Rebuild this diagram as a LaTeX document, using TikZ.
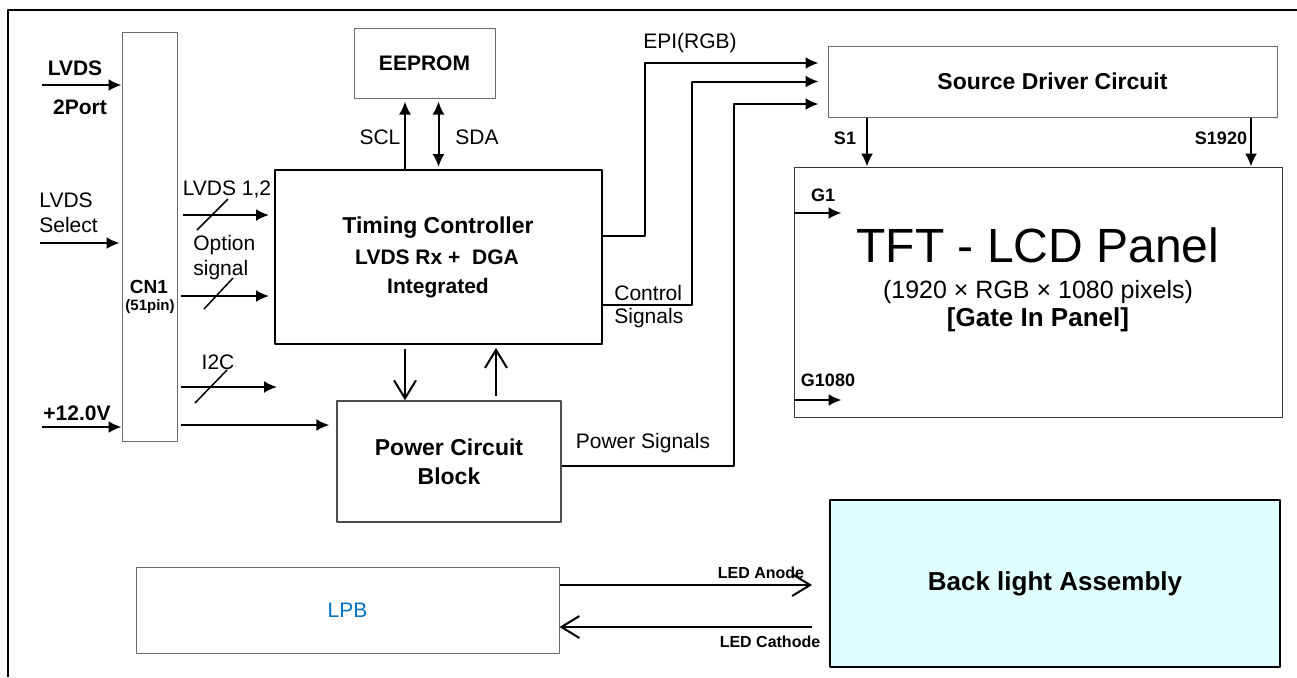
\documentclass[tikz,border=0pt]{standalone}
\usepackage{fontspec}
\setmainfont{Liberation Sans}
\usetikzlibrary{arrows.meta}
\definecolor{blucyan}{HTML}{E0FFFF}
\definecolor{lpbblue}{HTML}{0070C0}
\tikzset{
  blk/.style={draw=gray!85!black, line width=0.5pt, inner sep=0pt},
  txt/.style={inner sep=0pt, font=\fontsize{10.5}{12}\selectfont},
  btxt/.style={inner sep=0pt, font=\fontsize{10.5}{12}\selectfont\bfseries},
  pin/.style={inner sep=0pt, font=\fontsize{9}{11}\selectfont\bfseries},
  wire/.style={line width=1pt},
  slash/.style={line width=0.75pt},
  openarrow/.style={line width=1pt, -{Straight Barb[length=9pt,width=11pt]}},
}
\begin{document}
\begin{tikzpicture}[x=0.5pt,y=-0.5pt,line join=round,>={Latex[length=6.5pt,width=6pt]}]
\useasboundingbox (0,0) rectangle (1297,677);
% outer frame
\draw[line width=1pt] (8,677) -- (8,10) -- (1297,10);

% blocks
\node[blk, minimum width=27.5pt, minimum height=204.5pt] (cn1) at (149.5,236.5) {};
\node[blk, minimum width=70.5pt, minimum height=35pt, font=\fontsize{10.5}{12}\selectfont\bfseries] (eeprom) at (424.5,63) {EEPROM};
\node[draw, line width=1pt, inner sep=0pt, minimum width=163.5pt, minimum height=87pt] (tcon) at (438.5,257) {};
\node[blk, draw=gray!60!black, line width=0.75pt, minimum width=112pt, minimum height=60.5pt, align=center, font=\fontsize{11.5}{14.5}\selectfont\bfseries] (power) at (449,461.5) {Power Circuit\\Block};
\node[blk, minimum width=224.5pt, minimum height=35.5pt, font=\fontsize{11.5}{13}\selectfont\bfseries] (source) at (1052.5,81.5) {Source Driver Circuit};
\node[blk, draw=black!80, minimum width=244pt, minimum height=125pt] (panel) at (1038,292) {};
\node[blk, minimum width=211.5pt, minimum height=43pt, text=lpbblue, font=\fontsize{10.5}{12}\selectfont] (lpb) at (347.5,610) {LPB};
\node[draw, line width=1pt, fill=blucyan, inner sep=0pt, minimum width=225pt, minimum height=83.5pt, font=\fontsize{13}{15}\selectfont\bfseries] (blu) at (1055,583.5) {Back light Assembly};

% texts in blocks
\node[pin, font=\fontsize{9.5}{11}\selectfont\bfseries] (cn1txt) at (149,287) {CN1};
\node[pin, font=\fontsize{7.5}{9}\selectfont\bfseries] (pintxt) at (150,307) {(51pin)};
\node[btxt, font=\fontsize{11.5}{13}\selectfont\bfseries] (tctxt) at (438,228) {Timing Controller};
\node[btxt] (rxtxt) at (437,257) {LVDS Rx +\ \ DGA};
\node[btxt] (inttxt) at (438,288) {Integrated};
\node[txt, font=\fontsize{24}{28}\selectfont] (tfttxt) at (1038,245) {TFT - LCD Panel};
\node[txt, font=\fontsize{12.5}{14}\selectfont] (restxt) at (1038,292) {(1920 × RGB × 1080 pixels)};
\node[btxt, font=\fontsize{13}{15}\selectfont\bfseries] (giptxt) at (1038,320) {[Gate In Panel]};

% inputs
\coordinate (lvdsin) at (42,85);
\coordinate (selin) at (40,243);
\coordinate (vin) at (42,427);
\draw[wire,->] (lvdsin) -- (lvdsin -| cn1.west);
\draw[wire,->,shorten >=1pt] (selin) -- (selin -| cn1.west);
\draw[wire,->] (vin) -- (vin -| cn1.west);
\node[btxt] (lvdstxt) at (75,68) {LVDS};
\node[btxt] (porttxt) at (80,107) {2Port};
\node[txt, anchor=west] (seltxt) at (39,200) {LVDS};
\node[txt, anchor=west] (seltxtb) at (39,225) {Select};
\node[btxt] (vtxt) at (77,413) {+12.0V};

% CN1 to timing controller and power
\coordinate (ylvds) at (0,215);
\coordinate (yopt) at (0,296);
\coordinate (i2cend) at (277,387);
\coordinate (ypwr) at (0,425);
\draw[wire,->,shorten <=2.5pt,shorten >=2.5pt] (cn1.east |- ylvds) -- (tcon.west |- ylvds);
\draw[wire,->,shorten <=1.5pt,shorten >=2.5pt] (cn1.east |- yopt) -- (tcon.west |- yopt);
\draw[wire,->,shorten <=1.5pt] (cn1.east |- i2cend) -- (i2cend);
\draw[wire,->,shorten <=1.5pt,shorten >=3.5pt] (cn1.east |- ypwr) -- (power.west |- ypwr);
\draw[slash] (197,230) -- (228,199);
\draw[slash] (204,309) -- (233,278);
\draw[slash] (195,403) -- (227,370);
\node[txt] (lv12txt) at (227,190) {LVDS 1,2};
\node[txt, anchor=west] (opttxt) at (193,245) {Option};
\node[txt, anchor=west] (opttxtb) at (193,270) {signal};
\node[txt] (i2ctxt) at (218,362) {I2C};

% EEPROM bus
\draw[wire,->,shorten >=1.5pt] ([xshift=-16.75pt]tcon.north) -- ([xshift=-16.75pt]tcon.north |- eeprom.south);
\draw[wire,<->,shorten <=1pt,shorten >=1.5pt] (tcon.north) -- (tcon.north |- eeprom.south);
\node[txt] (scltxt) at (380,137) {SCL};
\node[txt] (sdatxt) at (477,137) {SDA};

% timing controller <-> power
\draw[openarrow,shorten <=2pt] ([xshift=-16.75pt]tcon.south) -- ([xshift=-16.75pt]tcon.south |- power.north);
\draw[openarrow,shorten <=2pt,shorten >=1.5pt] ([xshift=28.75pt]tcon.south |- power.north) -- ([xshift=28.75pt]tcon.south);

% to source driver
\draw[wire,->,shorten >=4.5pt] ([yshift=10.5pt]tcon.east) -- ++(42,0) |- ([yshift=9.25pt]source.west);
\draw[wire,->,shorten >=4.5pt] ([yshift=-24pt]tcon.east) -- ++(89,0) |- (source.west);
\draw[wire,->,shorten >=4.5pt] ([yshift=-2.25pt]power.east) -- ++(172,0) |- ([yshift=-11.25pt]source.west);
\node[txt] (epitxt) at (690,43) {EPI(RGB)};
\node[txt, anchor=west] (ctltxt) at (614,293) {Control};
\node[txt, anchor=west] (ctltxtb) at (614,318) {Signals};
\node[txt] (pwrtxt) at (643,443) {Power Signals};

% source and gate lines
\draw[wire,->] ([xshift=-92.75pt]source.south) -- ([xshift=-92.75pt]source.south |- panel.north);
\draw[wire,->] ([xshift=99.25pt]source.south) -- ([xshift=99.25pt]source.south |- panel.north);
\draw[wire,->] ([yshift=39.5pt]panel.west) -- ++(48,0);
\draw[wire,->] ([yshift=-54pt]panel.west) -- ++(48,0);
\node[pin] (s1txt) at (845,138) {S1};
\node[pin] (s1920txt) at (1221,138) {S1920};
\node[pin] (g1txt) at (823,195) {G1};
\node[pin] (g1080txt) at (828,380) {G1080};

% backlight
\draw[openarrow,shorten >=8.5pt] ([yshift=12.5pt]lpb.east) -- ([yshift=12.5pt]lpb.east -| blu.west);
\draw[openarrow,shorten <=8.5pt] ([yshift=-8.5pt]lpb.east -| blu.west) -- ([yshift=-8.5pt]lpb.east);
\node[pin, font=\fontsize{8}{9}\selectfont\bfseries] (anodetxt) at (761,573) {LED Anode};
\node[pin, font=\fontsize{8}{9}\selectfont\bfseries] (cathodetxt) at (770,642) {LED Cathode};
\end{tikzpicture}
\end{document}
